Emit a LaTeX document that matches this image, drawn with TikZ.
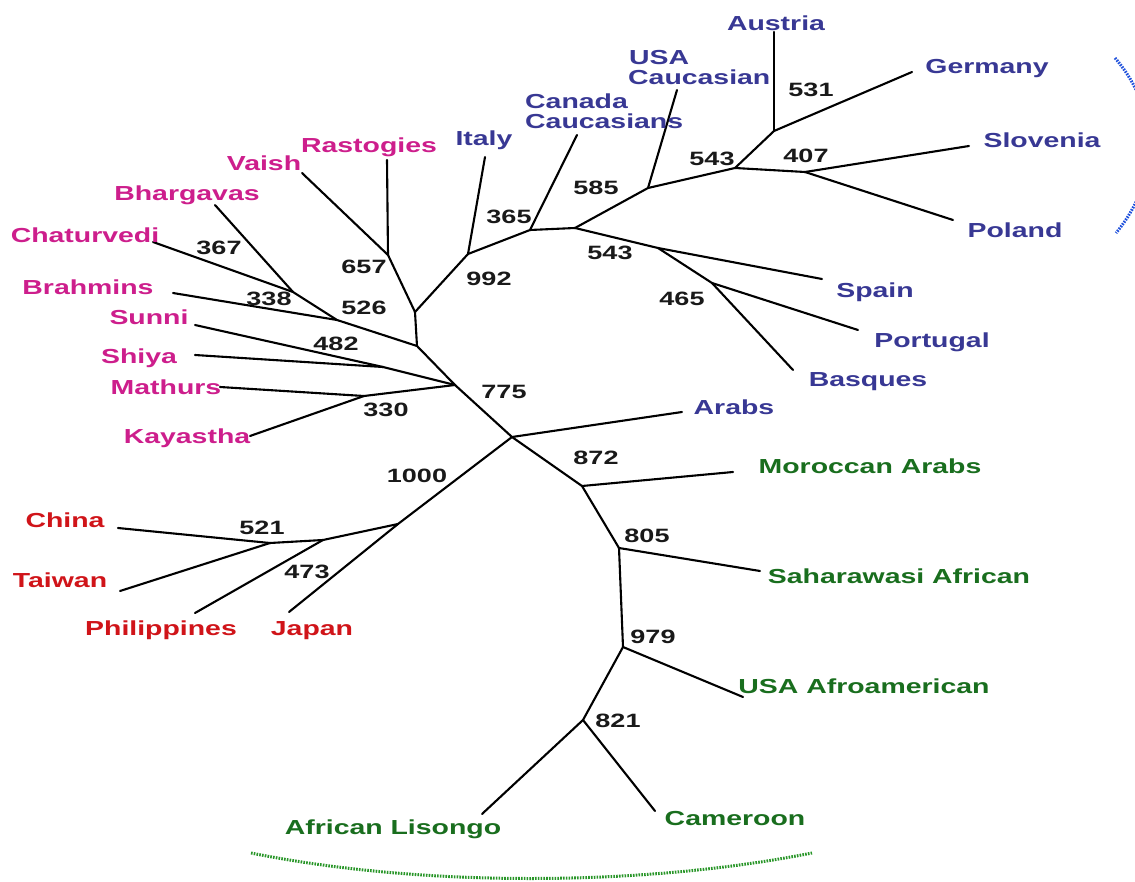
\documentclass[tikz,border=0pt]{standalone}
\usepackage{fontspec}
\setmainfont{Liberation Sans}[FakeStretch=1.40]
\definecolor{eu}{RGB}{56,56,148}
\definecolor{ind}{RGB}{205,30,140}
\definecolor{asi}{RGB}{208,20,25}
\definecolor{afr}{RGB}{25,110,30}
\definecolor{arcblue}{RGB}{30,80,220}
\definecolor{arcgreen}{RGB}{40,150,40}
\tikzset{
  tree/.style={line width=2.1pt, black, line cap=round, line join=round},
  lab/.style={font=\fontsize{20.3}{24}\selectfont\bfseries, inner sep=0pt, anchor=base},
  labw/.style={lab, anchor=base west},
  num/.style={font=\fontsize{19.3}{22}\selectfont\bfseries, inner sep=0pt, anchor=base, text=black!90},
  dotarc/.style={line width=3pt, dash pattern=on 1.6pt off 1.2pt}
}
\begin{document}
\begin{tikzpicture}[x=1pt,y=-1pt]
\fill[white] (0,0) rectangle (1135,882);
\useasboundingbox (0,0) rectangle (1135,882);
\clip (0,0) rectangle (1135,882);

% ---------- internal nodes ----------
\coordinate (R) at (512,437);
\coordinate (J1) at (455,385);
\coordinate (n526) at (417,346);
\coordinate (n992a) at (415,312);
\coordinate (n657) at (388,255);
\coordinate (n367) at (293,292);
\coordinate (n338) at (337,320);
\coordinate (n482) at (383,367);
\coordinate (n330) at (364,396);
\coordinate (n992) at (468,254);
\coordinate (n365) at (530,230);
\coordinate (nsp) at (575,228);
\coordinate (n585) at (648,188);
\coordinate (n543a) at (735,168);
\coordinate (naus) at (774,131);
\coordinate (n407) at (805,172);
\coordinate (n543b) at (658,248);
\coordinate (n465) at (712,283);
\coordinate (n1000) at (398,524);
\coordinate (n473) at (323,540);
\coordinate (n521) at (270,543);
\coordinate (n872) at (582,486);
\coordinate (n805) at (619,548);
\coordinate (n979) at (623,647);
\coordinate (n821) at (583,720);

% ---------- leaf ends ----------
\coordinate (eRast) at (387,160);
\coordinate (eVaish) at (302,173);
\coordinate (eBharg) at (215,205);
\coordinate (eChat) at (153,242);
\coordinate (eBrah) at (173,293);
\coordinate (eSunni) at (195,325);
\coordinate (eShiya) at (195,355);
\coordinate (eMath) at (220,387);
\coordinate (eKay) at (250,436);
\coordinate (eItaly) at (485,157);
\coordinate (eCan) at (577,135);
\coordinate (eUSA) at (677,90);
\coordinate (eAus) at (774,32);
\coordinate (eGer) at (912,72);
\coordinate (eSlo) at (969,146);
\coordinate (ePol) at (953,220);
\coordinate (eSpa) at (822,279);
\coordinate (ePor) at (858,330);
\coordinate (eBas) at (793,370);
\coordinate (eArabs) at (682,412);
\coordinate (eMor) at (733,472);
\coordinate (eSah) at (760,571);
\coordinate (eUSAf) at (743,697);
\coordinate (eLis) at (482,814);
\coordinate (eCam) at (655,811);
\coordinate (eChina) at (118,528);
\coordinate (eTai) at (120,591);
\coordinate (ePhi) at (195,613);
\coordinate (eJap) at (289,612);

% ---------- branches ----------
% Indian cluster
\draw[tree] (eRast) -- (n657);
\draw[tree] (eVaish) -- (n657);
\draw[tree] (n657) -- (n992a);
\draw[tree] (n992a) -- (n992);
\draw[tree] (n992a) -- (n526);
\draw[tree] (eBharg) -- (n367);
\draw[tree] (eChat) -- (n367);
\draw[tree] (n367) -- (n338);
\draw[tree] (eBrah) -- (n338);
\draw[tree] (n338) -- (n526);
\draw[tree] (n526) -- (J1);
\draw[tree] (eSunni) -- (n482);
\draw[tree] (eShiya) -- (n482);
\draw[tree] (n482) -- (J1);
\draw[tree] (eMath) -- (n330);
\draw[tree] (eKay) -- (n330);
\draw[tree] (n330) -- (J1);
\draw[tree] (J1) -- (R);
% European cluster
\draw[tree] (eItaly) -- (n992);
\draw[tree] (n992) -- (n365);
\draw[tree] (eCan) -- (n365);
\draw[tree] (n365) -- (nsp);
\draw[tree] (nsp) -- (n585);
\draw[tree] (eUSA) -- (n585);
\draw[tree] (n585) -- (n543a);
\draw[tree] (n543a) -- (naus);
\draw[tree] (eAus) -- (naus);
\draw[tree] (naus) -- (eGer);
\draw[tree] (n543a) -- (n407);
\draw[tree] (n407) -- (eSlo);
\draw[tree] (n407) -- (ePol);
\draw[tree] (nsp) -- (n543b);
\draw[tree] (n543b) -- (eSpa);
\draw[tree] (n543b) -- (n465);
\draw[tree] (n465) -- (ePor);
\draw[tree] (n465) -- (eBas);
% Arabs / African cluster
\draw[tree] (R) -- (eArabs);
\draw[tree] (R) -- (n872);
\draw[tree] (n872) -- (eMor);
\draw[tree] (n872) -- (n805);
\draw[tree] (n805) -- (eSah);
\draw[tree] (n805) -- (n979);
\draw[tree] (n979) -- (eUSAf);
\draw[tree] (n979) -- (n821);
\draw[tree] (n821) -- (eLis);
\draw[tree] (n821) -- (eCam);
% Asian cluster
\draw[tree] (R) -- (n1000);
\draw[tree] (n1000) -- (eJap);
\draw[tree] (n1000) -- (n473);
\draw[tree] (n473) -- (ePhi);
\draw[tree] (n473) -- (n521);
\draw[tree] (n521) -- (eChina);
\draw[tree] (n521) -- (eTai);

% ---------- labels ----------
\node[lab,text=ind] (tRast) at (369,153) {Rastogies};
\node[lab,text=ind] (tVaish) at (264,171) {Vaish};
\node[lab,text=ind] (tBharg) at (187,201) {Bhargavas};
\node[lab,text=ind] (tChat) at (85,243) {Chaturvedi};
\node[lab,text=ind] (tBrah) at (88,295) {Brahmins};
\node[lab,text=ind] (tSunni) at (149,325) {Sunni};
\node[lab,text=ind] (tShiya) at (139,364) {Shiya};
\node[lab,text=ind] (tMath) at (166,395) {Mathurs};
\node[lab,text=ind] (tKay) at (187,443) {Kayastha};

\node[lab,text=eu] (tItaly) at (484,146) {Italy};
\node[labw,text=eu] (tCan1) at (525,109) {Canada};
\node[labw,text=eu] (tCan2) at (525,129) {Caucasians};
\node[labw,text=eu] (tUSA1) at (629,65) {USA};
\node[labw,text=eu] (tUSA2) at (628,85) {Caucasian};
\node[lab,text=eu] (tAus) at (776,31) {Austria};
\node[lab,text=eu] (tGer) at (987,74) {Germany};
\node[lab,text=eu] (tSlo) at (1042,148) {Slovenia};
\node[lab,text=eu] (tPol) at (1015,238) {Poland};
\node[lab,text=eu] (tSpa) at (875,298) {Spain};
\node[lab,text=eu] (tPor) at (932,348) {Portugal};
\node[lab,text=eu] (tBas) at (868,387) {Basques};
\node[lab,text=eu] (tArabs) at (734,414) {Arabs};

\node[lab,text=afr] (tMor) at (870,473) {Moroccan Arabs};
\node[lab,text=afr] (tSah) at (899,583) {Saharawasi African};
\node[lab,text=afr] (tUSAf) at (864,693) {USA Afroamerican};
\node[lab,text=afr] (tLis) at (393,834) {African Lisongo};
\node[lab,text=afr] (tCam) at (735,825) {Cameroon};

\node[lab,text=asi] (tChina) at (65,527) {China};
\node[lab,text=asi] (tTai) at (60,587) {Taiwan};
\node[lab,text=asi] (tPhi) at (161,635) {Philippines};
\node[lab,text=asi] (tJap) at (312,635) {Japan};

% ---------- bootstrap values ----------
\node[num] (b531) at (811,97) {531};
\node[num] (b543a) at (712,166) {543};
\node[num] (b407) at (806,163) {407};
\node[num] (b585) at (596,195) {585};
\node[num] (b365) at (509,224) {365};
\node[num] (b543b) at (610,260) {543};
\node[num] (b992) at (489,286) {992};
\node[num] (b465) at (682,306) {465};
\node[num] (b657) at (364,274) {657};
\node[num] (b367) at (219,255) {367};
\node[num] (b338) at (269,306) {338};
\node[num] (b526) at (364,315) {526};
\node[num] (b482) at (336,351) {482};
\node[num] (b330) at (386,417) {330};
\node[num] (b775) at (504,399) {775};
\node[num] (b1000) at (417,482) {1000};
\node[num] (b872) at (596,464) {872};
\node[num] (b805) at (647,542) {805};
\node[num] (b521) at (262,534) {521};
\node[num] (b473) at (307,578) {473};
\node[num] (b979) at (653,643) {979};
\node[num] (b821) at (618,727) {821};

% ---------- dotted arcs ----------
\draw[dotarc,arcgreen] (251,853) .. controls (420,887) and (640,887) .. (812,853);
\draw[dotarc,arcblue] (1115,58) .. controls (1160,110) and (1160,180) .. (1116,233);
\end{tikzpicture}
\end{document}
